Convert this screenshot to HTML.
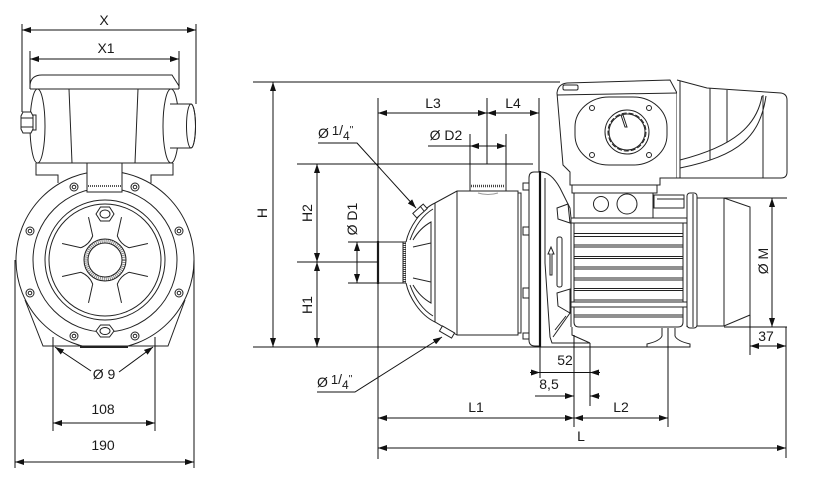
<!DOCTYPE html>
<html><head><meta charset="utf-8"><style>
html,body{margin:0;padding:0;background:#fff;}
svg{display:block;}
text{font-family:"Liberation Sans",Arial,sans-serif;font-size:14px;fill:#1a1a1a;}
</style></head><body>
<svg width="813" height="501" viewBox="0 0 813 501" xmlns="http://www.w3.org/2000/svg">
<defs>
<marker id="a" viewBox="0 0 9 6" refX="9" refY="3" markerWidth="9" markerHeight="6" markerUnits="userSpaceOnUse" orient="auto-start-reverse"><path d="M0,0L9,3L0,6z" fill="#111"/></marker>
<clipPath id="cf"><rect x="0" y="0" width="250" height="347"/></clipPath>
</defs>
<rect width="813" height="501" fill="#fff"/>

<!-- ================= LEFT VIEW ================= -->
<g fill="none" stroke="#222" stroke-width="1">
  <circle cx="105" cy="260" r="89" clip-path="url(#cf)"/>
  <path d="M25,300 L43,346 L168,346 L185,300" fill="none"/>
  <path d="M80,347 L128,347" stroke-width="2"/>
  <circle cx="105" cy="260" r="72"/>
  <circle cx="105" cy="260" r="60"/>
  <circle cx="105" cy="260" r="56"/>
  <g>
    <circle cx="74" cy="187" r="4"/><circle cx="74" cy="187" r="1.8"/>
    <circle cx="135" cy="187" r="4"/><circle cx="135" cy="187" r="1.8"/>
    <circle cx="30" cy="231" r="4"/><circle cx="30" cy="231" r="1.8"/>
    <circle cx="179" cy="231" r="4"/><circle cx="179" cy="231" r="1.8"/>
    <circle cx="30" cy="293" r="4"/><circle cx="30" cy="293" r="1.8"/>
    <circle cx="179" cy="293" r="4"/><circle cx="179" cy="293" r="1.8"/>
    <circle cx="74" cy="336" r="4"/><circle cx="74" cy="336" r="1.8"/>
    <circle cx="135" cy="336" r="4"/><circle cx="135" cy="336" r="1.8"/>
  </g>
  <path d="M96,214 L100.5,207 L109.5,207 L114,214 L109.5,221 L100.5,221 Z" fill="#fff"/>
  <ellipse cx="105" cy="214" rx="5" ry="4"/>
  <path d="M96,331 L100.5,325 L109.5,325 L114,331 L109.5,337 L100.5,337 Z" fill="#fff"/>
  <ellipse cx="105" cy="331" rx="5" ry="3.5"/>
  <circle cx="105" cy="260" r="19" stroke="#888" stroke-width="3.5" stroke-dasharray="1,1"/>
  <circle cx="105" cy="260" r="21"/>
  <circle cx="105" cy="260" r="17"/>
  <path d="M62.1,243.5 L80.9,247.7 Q89.4,244.4 92.7,235.9 L88.5,217.1"/>
  <path d="M121.5,217.1 L117.3,235.9 Q120.6,244.4 129.1,247.7 L147.9,243.5"/>
  <path d="M62.1,276.5 L80.9,272.3 Q89.4,275.6 92.7,284.1 L88.5,302.9"/>
  <path d="M147.9,276.5 L129.1,272.3 Q120.6,275.6 117.3,284.1 L121.5,302.9"/>
  <path d="M36,163 L36,175 L58,175 L58,183"/>
  <path d="M173,163 L173,175 L151,175 L151,183"/>
  <rect x="87" y="163" width="35" height="29" fill="#fff"/>
  <line x1="88" y1="186" x2="121" y2="186" stroke-dasharray="1,1" stroke-width="2" stroke="#555"/>
  <path d="M30,89 L30,85 Q31,75 42,75 L172,75 L179,86 L179,89" fill="#fff"/>
  <line x1="30" y1="89" x2="179" y2="89"/>
  <line x1="37" y1="163" x2="173" y2="163"/>
  <ellipse cx="37.5" cy="126" rx="7.5" ry="37" fill="#fff"/>
  <ellipse cx="171" cy="126" rx="8" ry="37" fill="#fff"/>
  <line x1="69" y1="89" x2="72" y2="163"/>
  <line x1="138" y1="89" x2="135" y2="163"/>
  <path d="M170,104 L191,104 A4.5,22 0 0 1 191,148 L170,148" fill="#fff"/>
  <ellipse cx="191" cy="126" rx="4.5" ry="22"/>
  <rect x="33" y="115" width="3" height="15" fill="#fff"/>
  <path d="M21,116 L23,112 L31,112 L33,116 L33,129 L31,133 L23,133 L21,129 Z" fill="#fff"/>
  <line x1="21" y1="118" x2="33" y2="118"/>
  <line x1="21" y1="127" x2="33" y2="127"/>
</g>

<g fill="none" stroke="#111" stroke-width="1">
  <line x1="22" y1="24" x2="22" y2="112"/>
  <line x1="196" y1="24" x2="196" y2="104"/>
  <line x1="22" y1="30" x2="196" y2="30" marker-start="url(#a)" marker-end="url(#a)"/>
  <line x1="30" y1="51" x2="30" y2="89"/>
  <line x1="179" y1="51" x2="179" y2="89"/>
  <line x1="30" y1="59" x2="179" y2="59" marker-start="url(#a)" marker-end="url(#a)"/>
  <line x1="15" y1="260" x2="15" y2="468"/>
  <line x1="194" y1="260" x2="194" y2="468"/>
  <line x1="15" y1="462" x2="194" y2="462" marker-start="url(#a)" marker-end="url(#a)"/>
  <line x1="53" y1="337" x2="53" y2="431"/>
  <line x1="155" y1="337" x2="155" y2="431"/>
  <line x1="53" y1="423" x2="155" y2="423" marker-start="url(#a)" marker-end="url(#a)"/>
  <path d="M91,371 L55,347" marker-end="url(#a)"/>
  <path d="M119,372 L153,347" marker-end="url(#a)"/>
</g>
<text x="104" y="25" text-anchor="middle">X</text>
<text x="106" y="53" text-anchor="middle">X1</text>
<text x="104" y="379" text-anchor="middle">Ø 9</text>
<text x="103" y="414" text-anchor="middle">108</text>
<text x="103" y="450" text-anchor="middle">190</text>

<!-- ================= RIGHT VIEW ================= -->
<g fill="none" stroke="#222" stroke-width="1">
  <rect x="378" y="242" width="25" height="41" fill="#fff"/>
  <line x1="378" y1="241" x2="378" y2="284" stroke-width="2.2"/>
  <rect x="403" y="242" width="3" height="41" fill="#fff"/>
  <line x1="404.5" y1="243" x2="404.5" y2="282" stroke-dasharray="1,1" stroke-width="2" stroke="#444"/>
  <path d="M406,242 C409,228 420,210 435,203 L457,191 L518,191 L518,335 L457,335 L435,322 C420,315 409,297 406,283" fill="#fff"/>
  <line x1="435" y1="203" x2="435" y2="322"/>
  <line x1="457" y1="191" x2="457" y2="335"/>
  <path d="M518,193 L521,193 L521,333 L518,333"/>
  <path d="M410,240 Q418,218 433,209"/>
  <path d="M410,285 Q418,307 433,316"/>
  <path d="M413,247 L431,243 L431,222 Q420,228 413,240"/>
  <path d="M413,278 L431,282 L431,303 Q420,297 413,285"/>
  <line x1="431" y1="243" x2="431" y2="282"/>
  <rect x="413" y="208" width="14" height="6" transform="rotate(-42 420 211)" fill="#fff"/>
  <line x1="420" y1="206" x2="424" y2="211" />
  <rect x="440" y="329" width="14" height="6" transform="rotate(30 447 332)" fill="#fff"/>
  <rect x="470" y="164" width="36" height="27" fill="#fff"/>
  <line x1="471" y1="186" x2="505" y2="186" stroke-dasharray="1,1" stroke-width="2.5" stroke="#444"/>
  <path d="M478,193 Q488,196 498,193" stroke="#999"/>
  <rect x="523" y="183" width="6" height="7" fill="#fff"/>
  <rect x="523" y="227" width="6" height="8" fill="#fff"/>
  <rect x="523" y="288" width="6" height="10" fill="#fff"/>
  <rect x="523" y="333" width="6" height="6" fill="#fff"/>
  <path d="M540,172 L534,172 Q529,172 529,178 L529,340 Q529,346 535,346 L540,346" fill="#fff"/>
  <line x1="540" y1="171" x2="540" y2="347" stroke-width="2.2" stroke="#111"/>
  <path d="M541,172 Q551,172 560,188 L570,208 L571,218"/>
  <path d="M545,178 L545,263 L550,337 L552,343 L590,343"/>
  <path d="M572,327 L572,335 L590,343"/>
  <path d="M557,208 L568,204 L570,223 L558,219 Z" fill="#fff"/>
  <path d="M557,293 L570,289 L570,313 L558,306 Z" fill="#fff"/>
  <path d="M570,313 L553,337"/>
  <path d="M566,316 L555,330"/>
  <rect x="557" y="237" width="5" height="50" rx="2"/>
  <path d="M550,275 L550,254 L548,254 L551,247 L554,254 L552,254 L552,275 Z"/>
  <rect x="572" y="185" width="85" height="8" fill="#fff"/>
  <path d="M574,193 L574,218 M653,193 L653,218"/>
  <circle cx="601" cy="204" r="7.5"/>
  <circle cx="627" cy="204" r="10"/>
  <rect x="654" y="195" width="30" height="13" fill="#fff"/>
  <line x1="657" y1="199" x2="684" y2="199"/>
  <rect x="571" y="218" width="116" height="5" fill="#fff"/>
  <path d="M571,223 L571,327 M687,223 L687,327"/>
  <path d="M574,223 L574,322 Q574,327 579,327 L678,327 Q683,327 683,322 L683,223"/>
  <path d="M574,233.5 H683 M574,236.5 H683 M574,245 H683 M574,247 H683 M574,256.5 H683 M574,258.5 H683 M574,267 H683 M574,269 H683 M574,278 H683 M574,280 H683 M574,288.5 H683 M574,290.5 H683 M574,300 H683 M574,315 H683 M574,317 H683"/>
  <rect x="571" y="302" width="116" height="5" fill="#fff"/>
  <rect x="687" y="193" width="10" height="135" rx="3" fill="#fff"/>
  <line x1="693" y1="194" x2="693" y2="327"/>
  <path d="M697,198 L724,198 L750,207 L750,315 L724,326 L697,326"/>
  <line x1="724" y1="198" x2="724" y2="326"/>
  <path d="M662,328 L662,336 Q660,341 647,344 L647,347 L690,347 L690,344 Q677,341 675,336 L675,328"/>
  <path d="M570,185 L570,172 L563,165 L557,93 Q558,84 567,83 L670,80 L677,93 L677,178 L660,178 L660,185 Z" fill="#fff"/>
  <line x1="557" y1="95" x2="677" y2="93"/>
  <rect x="563" y="85" width="15" height="5" rx="1.5"/>
  <rect x="575" y="97" width="92" height="68" rx="34" ry="30"/>
  <circle cx="592" cy="108" r="2.5"/><circle cx="649" cy="108" r="2.5"/>
  <circle cx="592" cy="155" r="2.5"/><circle cx="649" cy="155" r="2.5"/>
  <circle cx="627" cy="132" r="22"/>
  <circle cx="627" cy="132" r="19" stroke-dasharray="5,2"/>
  <circle cx="627" cy="132" r="18"/>
  <path d="M621,115 L625,127 L627,127 L623,115 Z"/>
  <path d="M677,80 L707,88 L781,93 Q787,94 787,100 L787,172 Q787,178 781,178 L677,178" fill="#fff"/>
  <line x1="680" y1="81" x2="680" y2="178"/>
  <line x1="710" y1="88" x2="710" y2="160"/>
  <line x1="727" y1="90" x2="727" y2="142"/>
  <line x1="763" y1="95" x2="763" y2="178"/>
  <path d="M762,96 C757,125 735,146 680,160"/>
  <path d="M766,96 C760,136 740,156 680,168"/>
</g>

<g fill="none" stroke="#111" stroke-width="1">
  <line x1="253" y1="82" x2="560" y2="82"/>
  <line x1="253" y1="347" x2="690" y2="347"/>
  <line x1="273" y1="82" x2="273" y2="347" marker-start="url(#a)" marker-end="url(#a)"/>
  <line x1="297" y1="164" x2="533" y2="164"/>
  <line x1="297" y1="262" x2="378" y2="262"/>
  <line x1="317" y1="164" x2="317" y2="262" marker-start="url(#a)" marker-end="url(#a)"/>
  <line x1="317" y1="262" x2="317" y2="347" marker-start="url(#a)" marker-end="url(#a)"/>
  <line x1="348" y1="242" x2="377" y2="242"/>
  <line x1="348" y1="283" x2="377" y2="283"/>
  <line x1="357" y1="242" x2="357" y2="283" marker-start="url(#a)" marker-end="url(#a)"/>
  <line x1="378" y1="98" x2="378" y2="459"/>
  <line x1="487" y1="98" x2="487" y2="164"/>
  <line x1="539" y1="98" x2="539" y2="172"/>
  <line x1="540" y1="347" x2="540" y2="378"/>
  <line x1="378" y1="113" x2="487" y2="113" marker-start="url(#a)" marker-end="url(#a)"/>
  <line x1="487" y1="113" x2="539" y2="113" marker-start="url(#a)" marker-end="url(#a)"/>
  <line x1="470" y1="134" x2="470" y2="164"/>
  <line x1="506" y1="134" x2="506" y2="164"/>
  <line x1="428" y1="146" x2="506" y2="146" marker-end="url(#a)"/>
  <line x1="481" y1="146" x2="470" y2="146" marker-end="url(#a)"/>
  <path d="M318,143 L357,143 L416,208" marker-end="url(#a)"/>
  <path d="M317,392 L355,392 L442,337" marker-end="url(#a)"/>
  <line x1="724" y1="198" x2="787" y2="198"/>
  <line x1="724" y1="327" x2="787" y2="327"/>
  <line x1="772" y1="198" x2="772" y2="327" marker-start="url(#a)" marker-end="url(#a)"/>
  <line x1="750" y1="315" x2="750" y2="355"/>
  <line x1="786" y1="327" x2="786" y2="458"/>
  <line x1="750" y1="346" x2="786" y2="346" marker-start="url(#a)" marker-end="url(#a)"/>
  <line x1="574" y1="335" x2="574" y2="427"/>
  <line x1="590" y1="343" x2="590" y2="406"/>
  <line x1="668" y1="328" x2="668" y2="427"/>
  <line x1="530" y1="372.5" x2="540" y2="372.5" marker-end="url(#a)"/>
  <line x1="540" y1="372.5" x2="590" y2="372.5"/>
  <line x1="600" y1="372.5" x2="590" y2="372.5" marker-end="url(#a)"/>
  <line x1="535" y1="396" x2="574" y2="396" marker-end="url(#a)"/>
  <line x1="600" y1="396" x2="590" y2="396" marker-end="url(#a)"/>
  <line x1="378" y1="418" x2="574" y2="418" marker-start="url(#a)" marker-end="url(#a)"/>
  <line x1="574" y1="418" x2="668" y2="418" marker-start="url(#a)" marker-end="url(#a)"/>
  <line x1="378" y1="448" x2="786" y2="448" marker-start="url(#a)" marker-end="url(#a)"/>
</g>

<text transform="translate(262,213) rotate(-90)" text-anchor="middle" y="5">H</text>
<text transform="translate(307,213) rotate(-90)" text-anchor="middle" y="5">H2</text>
<text transform="translate(307,305) rotate(-90)" text-anchor="middle" y="5">H1</text>
<text transform="translate(352,219) rotate(-90)" text-anchor="middle" y="5">Ø D1</text>
<text transform="translate(763,261) rotate(-90)" text-anchor="middle" y="5">Ø M</text>
<text x="433" y="108" text-anchor="middle">L3</text>
<text x="513" y="108" text-anchor="middle">L4</text>
<text x="446" y="140" text-anchor="middle">Ø D2</text>
<text x="318" y="138">Ø<tspan font-size="13" dx="3" dy="-3">1</tspan><tspan font-size="14" dy="0">/</tspan><tspan font-size="12" dy="5">4</tspan><tspan font-size="10" dy="-7">"</tspan></text>
<text x="317" y="387">Ø<tspan font-size="13" dx="3" dy="-3">1</tspan><tspan font-size="14" dy="0">/</tspan><tspan font-size="12" dy="5">4</tspan><tspan font-size="10" dy="-7">"</tspan></text>
<text x="565" y="365" text-anchor="middle">52</text>
<text x="549" y="389" text-anchor="middle">8,5</text>
<text x="766" y="341" text-anchor="middle">37</text>
<text x="476" y="412" text-anchor="middle">L1</text>
<text x="621" y="412" text-anchor="middle">L2</text>
<text x="581" y="441" text-anchor="middle">L</text>
</svg>
</body></html>
